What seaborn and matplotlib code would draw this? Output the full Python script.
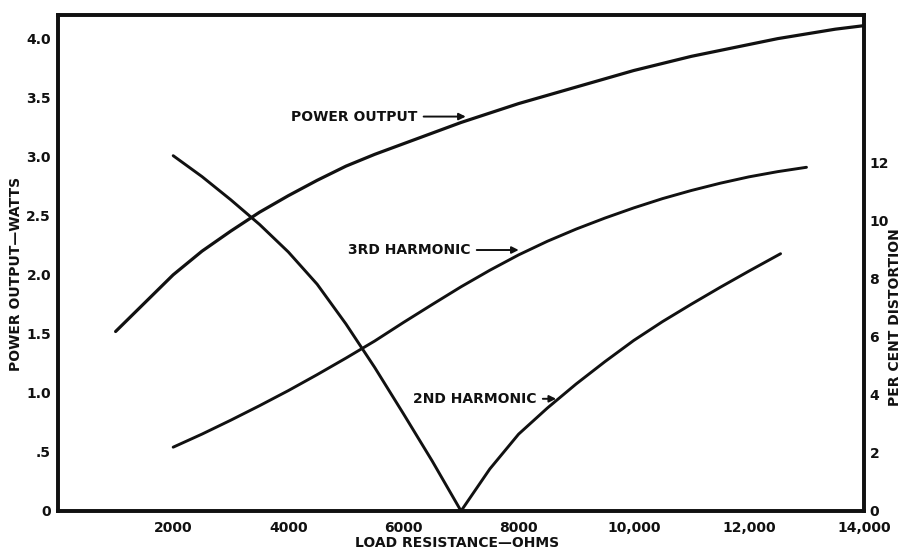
import matplotlib
matplotlib.use("Agg")
import matplotlib.pyplot as plt
import seaborn as sns
import pandas as pd

# load resistance (ohms) vs power output (watts)
power_r = [1000, 1500, 2000, 2500, 3000, 3500, 4000, 4500, 5000, 5500, 6000, 6500, 7000,
           7500, 8000, 8500, 9000, 9500, 10000, 10500, 11000, 11500, 12000, 12500, 13000,
           13500, 14000]
power_w = [1.52, 1.76, 2.0, 2.2, 2.37, 2.53, 2.67, 2.8, 2.92, 3.02, 3.11, 3.2, 3.29,
           3.37, 3.45, 3.52, 3.59, 3.66, 3.73, 3.79, 3.85, 3.9, 3.95, 4.0, 4.04,
           4.08, 4.11]

# 3rd harmonic distortion (per cent)
h3_r = [2000, 2500, 3000, 3500, 4000, 4500, 5000, 5500, 6000, 6500, 7000, 7500, 8000,
        8500, 9000, 9500, 10000, 10500, 11000, 11500, 12000, 12500, 13000]
h3_pct = [2.2, 2.65, 3.13, 3.63, 4.15, 4.7, 5.27, 5.86, 6.5, 7.12, 7.73, 8.3, 8.83,
          9.3, 9.72, 10.1, 10.45, 10.77, 11.05, 11.3, 11.52, 11.7, 11.85]

# 2nd harmonic distortion (per cent), falls to zero near 7000 ohms then rises
h2_r = [2000, 2500, 3000, 3500, 4000, 4500, 5000, 5500, 6000, 6500, 7000,
        7500, 8000, 8500, 9000, 9500, 10000, 10500, 11000, 11500, 12000, 12550]
h2_pct = [12.25, 11.53, 10.73, 9.88, 8.93, 7.82, 6.45, 4.95, 3.35, 1.72, 0.0,
          1.45, 2.65, 3.55, 4.38, 5.15, 5.88, 6.53, 7.13, 7.71, 8.27, 8.87]

x_ticks = [2000, 4000, 6000, 8000, 10000, 12000, 14000]
x_labels = ["2000", "4000", "6000", "8000", "10,000", "12,000", "14,000"]
left_ticks = [0, 0.5, 1.0, 1.5, 2.0, 2.5, 3.0, 3.5, 4.0]
left_labels = ["0", ".5", "1.0", "1.5", "2.0", "2.5", "3.0", "3.5", "4.0"]
right_ticks = [0, 2, 4, 6, 8, 10, 12]

sns.set_theme(style="white")
plt.rcParams["font.family"] = ["DejaVu Sans"]
plt.rcParams["font.weight"] = "bold"
ink = "#111111"
plt.rcParams["text.color"] = ink
plt.rcParams["axes.labelcolor"] = ink
plt.rcParams["xtick.color"] = ink
plt.rcParams["ytick.color"] = ink

fig = plt.figure(figsize=(9.04, 5.52), dpi=100)
ax = fig.add_axes([0.0642, 0.0743, 0.8916, 0.8985])
ax2 = ax.twinx()

power = pd.DataFrame({"r": power_r, "w": power_w})
h3 = pd.DataFrame({"r": h3_r, "p": h3_pct})
h2 = pd.DataFrame({"r": h2_r, "p": h2_pct})

sns.lineplot(data=power, x="r", y="w", ax=ax, color=ink, linewidth=2.3)
sns.lineplot(data=h3, x="r", y="p", ax=ax2, color=ink, linewidth=2.1)
sns.lineplot(data=h2, x="r", y="p", ax=ax2, color=ink, linewidth=2.1, sort=False)

ax.set_xlim(0, 14000)
ax.set_ylim(0, 4.2)
ax2.set_ylim(0, 17.1)

ax.set_xticks(x_ticks)
ax.set_xticklabels(x_labels, fontsize=10, fontweight="bold")
ax.set_yticks(left_ticks)
ax.set_yticklabels(left_labels, fontsize=10, fontweight="bold")
ax2.set_yticks(right_ticks)
ax2.set_yticklabels([str(t) for t in right_ticks], fontsize=10, fontweight="bold")
ax.tick_params(axis="x", length=0, pad=7)
ax.tick_params(axis="y", length=0, pad=5)
ax2.tick_params(length=0, pad=4)

for a in (ax, ax2):
    for s in a.spines.values():
        s.set_linewidth(2.6)
        s.set_color(ink)

ax.set_xlabel("LOAD RESISTANCE—OHMS", fontsize=10, fontweight="bold")
ax.set_ylabel("POWER OUTPUT—WATTS", fontsize=10, fontweight="bold")
ax2.set_ylabel("PER CENT DISTORTION", fontsize=10, fontweight="bold")
ax.xaxis.set_label_coords(0.495, -0.05)
ax.yaxis.set_label_coords(-0.044, 0.478)
ax2.yaxis.set_label_coords(1.03, 0.39)

arrow = dict(arrowstyle="-|>", color=ink, lw=1.4, mutation_scale=10)
ax.annotate("POWER OUTPUT", xy=(7130, 3.34), xytext=(4050, 3.34),
            fontsize=10, fontweight="bold", va="center", ha="left", arrowprops=arrow)
ax.annotate("3RD HARMONIC", xy=(8050, 2.21), xytext=(5040, 2.21),
            fontsize=10, fontweight="bold", va="center", ha="left", arrowprops=arrow)
ax.annotate("2ND HARMONIC", xy=(8700, 0.95), xytext=(6170, 0.95),
            fontsize=10, fontweight="bold", va="center", ha="left", arrowprops=arrow)

fig.savefig("out.png", dpi=100)
